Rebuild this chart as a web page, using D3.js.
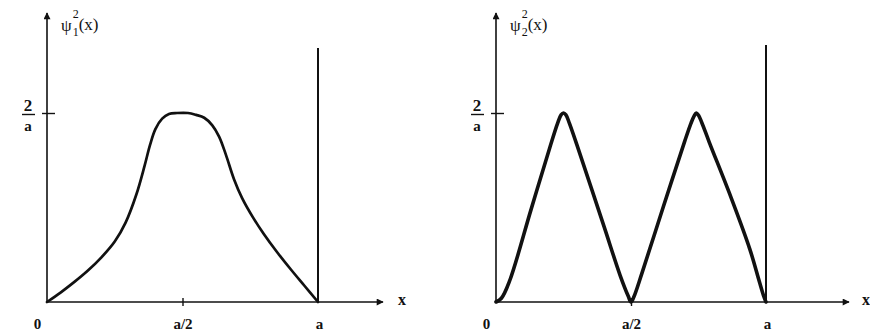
<!DOCTYPE html>
<html>
<head>
<meta charset="utf-8">
<script src="https://cdn.jsdelivr.net/npm/d3@7"></script>
<style>
  html, body { margin: 0; padding: 0; background: #fff; }
  svg text { font-family: "Liberation Serif", "DejaVu Serif", serif; fill: #111; }
</style>
</head>
<body>
<svg id="chart" width="870" height="331"></svg>
<script>
// Position along the box, as a fraction of the width a
const xs1 = [0, 0.05, 0.10, 0.15, 0.20, 0.25, 0.29, 0.33, 0.36, 0.38, 0.40, 0.425, 0.45, 0.48, 0.52, 0.55, 0.58,
             0.61, 0.635, 0.66, 0.69, 0.72, 0.76, 0.80, 0.85, 0.90, 0.95, 1];
// psi_1^2(x), in units of 2/a
const psi1Sq = [0, 0.05, 0.105, 0.165, 0.235, 0.32, 0.42, 0.57, 0.72, 0.83, 0.915, 0.97, 0.995, 1.0, 1.0, 0.99, 0.975,
                0.935, 0.875, 0.78, 0.65, 0.55, 0.448, 0.36, 0.262, 0.172, 0.086, 0];

const xs2 = [0, 0.02, 0.05, 0.13, 0.20, 0.228, 0.241, 0.25, 0.259, 0.272, 0.30, 0.40, 0.46, 0.49, 0.5,
             0.51, 0.54, 0.62, 0.70, 0.722, 0.734, 0.742, 0.75, 0.762, 0.79, 0.87, 0.94, 0.975, 0.993, 1];
// psi_2^2(x), in units of 2/a
const psi2Sq = [0, 0.02, 0.11, 0.49, 0.82, 0.945, 0.99, 1.0, 0.99, 0.945, 0.83, 0.40, 0.14, 0.03, 0,
                0.025, 0.15, 0.505, 0.855, 0.945, 0.985, 1.0, 0.988, 0.95, 0.845, 0.555, 0.28, 0.11, 0.025, 0];

const xTickValues = [0, 0.5, 1];
const xTickLabels = ["0", "a/2", "a"];
const yTickValue = 1;             // 2/a
const yTickLabel = ["2", "a"];    // numerator, denominator

const panels = [
  { x0: 47,  x1: 318, label: "1", xs: xs1, ys: psi1Sq, width: 2.7, wallTop: 48, axisEnd: 383, xLabel: 398 },
  { x0: 496, x1: 766, label: "2", xs: xs2, ys: psi2Sq, width: 3.6, wallTop: 45, axisEnd: 849, xLabel: 862 }
];

const svg = d3.select("#chart");
const yBase = 302, yTop = 13;

const defs = svg.append("defs");
defs.append("marker")
  .attr("id", "arrow").attr("viewBox", "0 0 10 10")
  .attr("refX", 9).attr("refY", 5)
  .attr("markerWidth", 12).attr("markerHeight", 7)
  .attr("markerUnits", "userSpaceOnUse")
  .attr("orient", "auto")
  .append("path").attr("d", "M0,0 L10,5 L0,10 Z").attr("fill", "#111");

panels.forEach(p => {
  const x = d3.scaleLinear().domain([0, 1]).range([p.x0, p.x1]);
  const y = d3.scaleLinear().domain([0, 1]).range([yBase, 113]);
  const g = svg.append("g");

  // y axis with arrow
  g.append("line")
    .attr("x1", x(0)).attr("x2", x(0))
    .attr("y1", y(0)).attr("y2", yTop)
    .attr("stroke", "#111").attr("stroke-width", 1.6)
    .attr("marker-end", "url(#arrow)");

  // x axis with arrow
  g.append("line")
    .attr("x1", x(0)).attr("x2", p.axisEnd)
    .attr("y1", y(0)).attr("y2", y(0))
    .attr("stroke", "#111").attr("stroke-width", 1.6)
    .attr("marker-end", "url(#arrow)");

  // right wall of the box
  g.append("line")
    .attr("x1", x(1)).attr("x2", x(1))
    .attr("y1", y(0)).attr("y2", p.wallTop)
    .attr("stroke", "#111").attr("stroke-width", 2);

  // x ticks and labels
  const xAxis = d3.axisBottom(x)
    .tickValues(xTickValues)
    .tickFormat((d, i) => xTickLabels[i])
    .tickSizeInner(4).tickSizeOuter(0).tickPadding(12);
  const gx = g.append("g").attr("transform", `translate(0,${y(0)})`).call(xAxis);
  gx.select(".domain").remove();
  gx.selectAll(".tick line")
    .attr("y1", -4).attr("y2", 4)
    .attr("stroke", "#111").attr("stroke-width", 1.4)
    .attr("display", d => d === 0.5 ? null : "none");
  gx.selectAll(".tick text")
    .attr("font-size", 15).attr("font-weight", "bold")
    .attr("dx", d => d === 0 ? -10 : (d === 1 ? 1 : 0))
    .style("font-family", '"Liberation Serif", serif')
    .attr("fill", "#111");

  // y tick: 2/a written as a fraction
  const yAxis = d3.axisLeft(y).tickValues([yTickValue]).tickFormat("").tickSizeInner(5).tickSizeOuter(0);
  const gy = g.append("g").attr("transform", `translate(${x(0)},0)`).call(yAxis);
  gy.select(".domain").remove();
  gy.selectAll(".tick line").attr("x1", -5).attr("x2", 8).attr("stroke", "#111").attr("stroke-width", 1.4);
  const frac = gy.select(".tick");
  frac.append("text").attr("x", -19).attr("y", -3).attr("text-anchor", "middle")
    .attr("font-size", 17).attr("font-weight", "bold").text(yTickLabel[0]);
  frac.append("line").attr("x1", -25).attr("x2", -12).attr("y1", 1).attr("y2", 1)
    .attr("stroke", "#111").attr("stroke-width", 1.4);
  frac.append("text").attr("x", -19).attr("y", 17).attr("text-anchor", "middle")
    .attr("font-size", 15).attr("font-weight", "bold").text(yTickLabel[1]);

  // axis titles
  const t = g.append("text").attr("x", x(0) + 14).attr("y", 31).attr("font-size", 17);
  t.append("tspan").text("ψ");
  t.append("tspan").attr("font-size", 12).attr("dx", 1).attr("dy", -13).text("2");
  t.append("tspan").attr("font-size", 12).attr("dx", -6).attr("dy", 18).text(p.label);
  t.append("tspan").attr("dy", -6).text("(x)");

  g.append("text").attr("x", p.xLabel).attr("y", y(0) + 3)
    .attr("font-size", 16).attr("font-weight", "bold").text("x");

  // probability density curve
  const line = d3.line()
    .x((d, i) => x(p.xs[i]))
    .y(d => y(d))
    .curve(d3.curveCatmullRom.alpha(0.5));
  g.append("path")
    .datum(p.ys)
    .attr("d", line)
    .attr("fill", "none")
    .attr("stroke", "#111")
    .attr("stroke-width", p.width)
    .attr("stroke-linejoin", "round")
    .attr("stroke-linecap", "round");
});
</script>
</body>
</html>
